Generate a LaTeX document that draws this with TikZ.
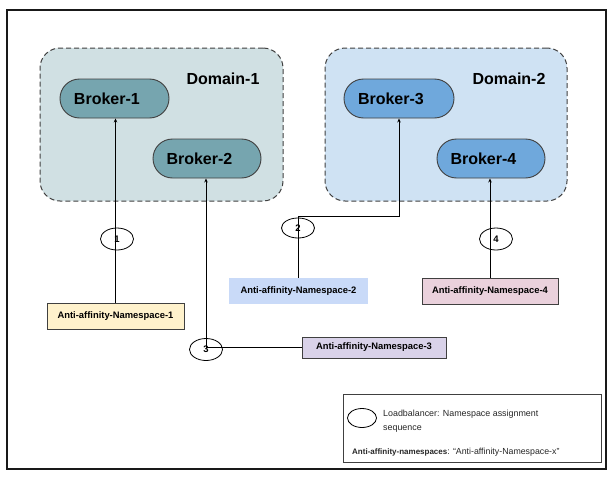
\documentclass[tikz,border=0pt]{standalone}
\usepackage{fontspec}
\setmainfont{Liberation Sans}
\usetikzlibrary{shapes.geometric,arrows.meta}
\definecolor{dom1}{HTML}{D0E0E3}
\definecolor{dom2}{HTML}{CFE2F3}
\definecolor{brk1}{HTML}{76A5AF}
\definecolor{brk2}{HTML}{6FA8DC}
\definecolor{nsyellow}{HTML}{FFF2CC}
\definecolor{nsblue}{HTML}{C9DAF8}
\definecolor{nspurple}{HTML}{D9D2E9}
\definecolor{nspink}{HTML}{EAD1DC}
\definecolor{edge}{HTML}{404040}
\tikzset{
  dombox/.style={draw=edge, dashed, dash pattern=on 5pt off 3pt, line width=1pt, rounded corners=20pt, inner sep=0pt},
  domlabel/.style={font=\fontsize{16}{18}\selectfont\bfseries, inner sep=0pt},
  broker/.style={draw=edge, line width=0.9pt, rounded corners=19.5pt, minimum height=39pt, inner xsep=14pt, inner ysep=0pt, align=left, font=\fontsize{16}{18}\selectfont\bfseries},
  nsbox/.style={line width=0.9pt, minimum height=26pt, inner sep=0pt, font=\fontsize{9.4}{11}\selectfont\bfseries},
  lb/.style={draw=black, ellipse, line width=0.8pt, minimum width=33pt, minimum height=22pt, inner sep=0pt, font=\fontsize{9.5}{10}\selectfont\bfseries},
  link/.style={draw=black, line width=0.8pt},
  arr/.style={link, -{Stealth[length=4pt,width=3.5pt]}},
}
\begin{document}
\begin{tikzpicture}[x=1pt,y=-1pt]
\useasboundingbox (0,0) rectangle (614,482);
% frame
\draw[line width=1.3pt, draw=black!90] (7,10) rectangle (606,469);
% domains
\node[dombox, fill=dom1, minimum width=243pt, minimum height=153pt] (d1) at (161.5,124.5) {};
\node[dombox, fill=dom2, minimum width=242pt, minimum height=153pt] (d2) at (446,124.5) {};
\node[domlabel] (d1l) at (223,79) {Domain-1};
\node[domlabel] (d2l) at (509,79) {Domain-2};
% brokers
\node[broker, fill=brk1, text width=81pt] (b1) at (114.5,98.5) {Broker-1};
\node[broker, fill=brk1, text width=81pt, inner xsep=13.5pt] (b2) at (207,158.5) {Broker-2};
\node[broker, fill=brk2, text width=82pt] (b3) at (399,98.5) {Broker-3};
\node[broker, fill=brk2, text width=81pt, inner xsep=13.5pt] (b4) at (491,158.5) {Broker-4};
% namespaces
\node[nsbox, draw=edge, fill=nsyellow, minimum width=137pt] (ns1) at (115.5,316) {Anti-affinity-Namespace-1};
\node[nsbox, fill=nsblue, minimum width=139pt] (ns2) at (298.5,291) {Anti-affinity-Namespace-2};
\node[nsbox, draw=edge, fill=nspurple, minimum width=144pt, minimum height=21pt] (ns3) at (374,347.5) {Anti-affinity-Namespace-3};
\node[nsbox, draw=edge, fill=nspink, minimum width=136pt] (ns4) at (490,291) {Anti-affinity-Namespace-4};
% load balancer ellipses
\node[lb] (e1) at (117,239) {1};
\node[lb, minimum height=20pt] (e2) at (298,228) {2};
\node[lb] (e3) at (206,349.5) {3};
\node[lb] (e4) at (496,239) {4};
% connectors
\coordinate (c2) at (298.5,216);
\draw[arr] (ns1.north) -- (ns1.north |- b1.south);
\draw[arr] (ns2.north) -- (c2) -| (b3.south);
\draw[arr] (ns3.west) -- (ns3.west -| e3.center) -- (e3.center |- b2.south);
\draw[arr] (ns4.north) -- (ns4.north |- b4.south);
% legend
\draw[draw=edge, line width=1pt] (343,394) rectangle (601,462);
\node[lb, minimum width=29pt, minimum height=19pt] (le) at (362,418) {};
\node[anchor=west, align=left, inner sep=0pt, text=black!85, font=\fontsize{8.9}{14}\selectfont] (lt) at (383,421) {Loadbalancer: Namespace assignment\\sequence};
\node[anchor=west, inner sep=0pt, text=black!85] (lt2) at (352,452) {{\fontsize{8}{10}\selectfont\bfseries Anti-affinity-namespaces}{\fontsize{8.8}{10}\selectfont: “Anti-affinity-Namespace-x”}};
\end{tikzpicture}
\end{document}
